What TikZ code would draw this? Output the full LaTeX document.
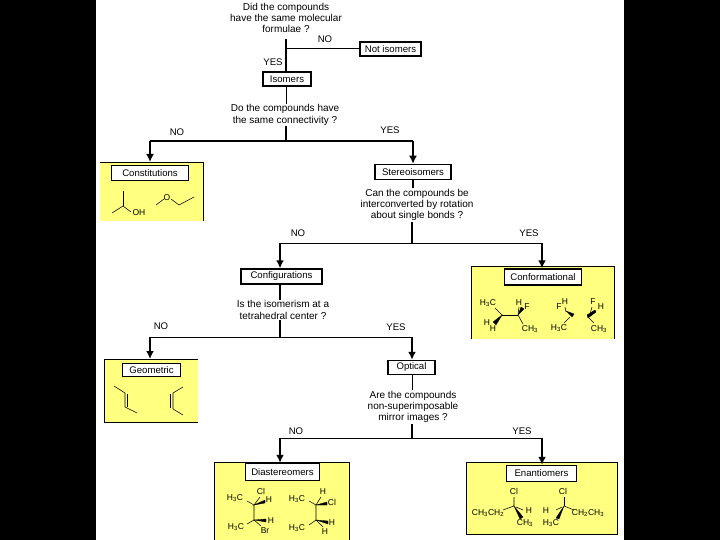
\documentclass[tikz,border=0pt]{standalone}
\usepackage{fontspec}
\setmainfont{Liberation Sans}
\usetikzlibrary{arrows.meta}
\definecolor{panelyellow}{RGB}{255,255,128}
\newcommand{\tbr}[1]{\textsubscript{#1}}
\tikzset{
  x=1pt,y=-1pt,
  qtext/.style={align=center,font=\fontsize{10}{11.2}\selectfont,inner sep=1pt},
  lbl/.style={font=\fontsize{9.6}{11}\selectfont,inner sep=0pt},
  atom/.style={font=\fontsize{8.5}{9}\selectfont,inner sep=0pt},
  boxnode/.style={draw=black,line width=1.5pt,fill=white,font=\fontsize{9.6}{11}\selectfont,inner sep=0pt,minimum width=#1},
  panel/.style={fill=panelyellow,inner sep=0pt,anchor=north west},
  wire/.style={line width=1pt},
  heavy/.style={line width=2pt},
  arrowed/.style={line width=2pt,-{Latex[length=8pt,width=8pt]},shorten >=0pt},
  edge/.style={line width=0.9pt},
  bond/.style={line width=0.55pt},
  wedge/.style={fill=black,draw=black,line width=0.3pt}
}
\begin{document}
\begin{tikzpicture}
\useasboundingbox (0,0) rectangle (720,540);
\fill[black] (0,0) rectangle (720,540);
\fill[white] (96,0) rectangle (624,540);

% panels
\node[panel,minimum width=103pt,minimum height=59pt] (pcons) at (100,162) {};
\draw[edge] (pcons.north west) -- (pcons.north east) -- (pcons.south east);
\node[panel,minimum width=143pt,minimum height=73pt] (pconf) at (471,266) {};
\draw[edge] (pconf.south west) -- (pconf.north west) -- (pconf.north east) -- (pconf.south east);
\node[panel,minimum width=94pt,minimum height=63pt] (pgeo) at (104,359) {};
\draw[edge] (pgeo.north east) -- (pgeo.north west) -- (pgeo.south west) -- (pgeo.south east);
\node[panel,minimum width=135pt,minimum height=78pt] (pdia) at (214,462) {};
\draw[edge] (pdia.south west) -- (pdia.north west) -- (pdia.north east) -- (pdia.south east);
\node[panel,minimum width=151pt,minimum height=72pt,draw=black,line width=0.9pt] (pena) at (466,462) {};

% questions
\node[qtext] (q1) at (286,18) {Did the compounds\\have the same molecular\\formulae ?};
\node[qtext] (q2) at (285,115) {Do the compounds have\\the same connectivity ?};
\node[qtext] (q3) at (417,205) {Can the compounds be\\interconverted by rotation\\about single bonds ?};
\node[qtext] (q4) at (283,310) {Is the isomerism at a\\tetrahedral center ?};
\node[qtext] (q5) at (413,407) {Are the compounds\\non-superimposable\\mirror images ?};

% boxes
\node[boxnode=61pt,minimum height=14pt] (notiso) at (390.5,49) {Not isomers};
\node[boxnode=48pt,minimum height=14pt] (iso) at (287,79) {Isomers};
\node[boxnode=76pt,minimum height=15pt] (stereo) at (413,172) {Stereoisomers};
\node[boxnode=81pt,minimum height=15pt] (config) at (281.5,276.5) {Configurations};
\node[boxnode=47pt,minimum height=14pt] (optical) at (411.5,367.5) {Optical};
\node[boxnode=77pt,minimum height=15pt] (cons) at (150,173) {Constitutions};
\node[boxnode=77pt,minimum height=16pt] (conf) at (543,277) {Conformational};
\node[boxnode=58pt,minimum height=13pt] (geo) at (151.5,370) {Geometric};
\node[boxnode=74pt,minimum height=17pt] (dia) at (282.5,472) {Diastereomers};
\node[boxnode=70pt,minimum height=16pt] (ena) at (541.5,473.5) {Enantiomers};

% junctions
\coordinate (j1) at (286,49);
\coordinate (j2) at (286,141);
\coordinate (j2l) at (150,141);
\coordinate (j2r) at (413,141);
\coordinate (j3) at (412,243);
\coordinate (j3l) at (280,243);
\coordinate (j3r) at (542,243);
\coordinate (j4) at (280,337);
\coordinate (j4l) at (150,337);
\coordinate (j4r) at (412,337);
\coordinate (j5) at (412,438);
\coordinate (j5l) at (280,438);
\coordinate (j5r) at (542,438);

% connectors
\draw[heavy] (286,39) -- (286,71);
\draw[wire] (j1) -- (notiso.west);
\draw[wire] (iso.south -| j1) -- (q2.north -| j1);
\draw[heavy] (q2.south -| j2) -- (j2);
\draw[heavy] (j2l) -- (j2r);
\draw[arrowed] (j2l) -- (pcons.north -| j2l);
\draw[arrowed] (j2r) -- (stereo.north);
\draw[heavy] (stereo.south) -- (q3.north -| stereo);
\draw[heavy] (q3.south -| j3) -- (j3);
\draw[wire] (j3l) -- (j3r);
\draw[arrowed] (j3l) -- (config.north -| j3l);
\draw[arrowed] (j3r) -- (conf.north -| j3r);
\draw[heavy] (config.south -| j4) -- (q4.north -| j4);
\draw[heavy] (q4.south -| j4) -- (j4);
\draw[wire] (j4l) -- (j4r);
\draw[arrowed] (j4l) -- (pgeo.north -| j4l);
\draw[arrowed] (j4r) -- (optical.north -| j4r);
\draw[wire] (optical.south -| j5) -- (q5.north -| j5);
\draw[heavy] (q5.south -| j5) -- (j5);
\draw[wire] (j5l) -- (j5r);
\draw[arrowed] (j5l) -- (dia.north -| j5l);
\draw[arrowed] (j5r) -- (ena.north -| j5r);

% branch labels
\node[lbl] (l1) at (325,39) {NO};
\node[lbl] (l2) at (273,62) {YES};
\node[lbl] (l3) at (177,132) {NO};
\node[lbl] (l4) at (390,130) {YES};
\node[lbl] (l5) at (298,233) {NO};
\node[lbl] (l6) at (529,233) {YES};
\node[lbl] (l7) at (161,326) {NO};
\node[lbl] (l8) at (396,327) {YES};
\node[lbl] (l9) at (296,431) {NO};
\node[lbl] (l10) at (522,431) {YES};

% Constitutional structures
\draw[bond] (112,213) -- (123,206) -- (131,212);
\draw[bond] (123,206) -- (123,191);
\node[atom] (a1) at (139,213) {OH};
\draw[bond] (156,205) -- (164,199);
\node[atom] (a2) at (167,198) {O};
\draw[bond] (171,199) -- (179,205) -- (194,197);

% Geometric structures
\draw[bond] (114,386) -- (125,393) -- (125,407) -- (137,413);
\draw[bond] (127.5,394) -- (127.5,407);
\draw[bond] (183,387) -- (173,393) -- (173,409) -- (183,415);
\draw[bond] (170.5,394) -- (170.5,408);

% Conformational structures
\node[atom] (c1) at (488,303) {H\tbr{3}C};
\node[atom] (c2) at (519,303) {H};
\node[atom] (c3) at (527,307) {F};
\node[atom] (c4) at (487,323) {H};
\node[atom] (c5) at (493,329) {H};
\node[atom] (c6) at (530,329) {CH\tbr{3}};
\draw[bond] (495,308) -- (502,315);
\draw[wedge] (502,315) -- (493,322) -- (496,325) -- cycle;
\draw[bond] (502,315) -- (518,315);
\draw[wedge] (518,315) -- (524,309) -- (521,307) -- cycle;
\draw[bond] (518,315) -- (519,307);
\draw[bond] (518,315) -- (523,324);
\node[atom] (c7) at (565,302) {H};
\node[atom] (c8) at (559,307) {F};
\node[atom] (c9) at (559,328) {H\tbr{3}C};
\draw[bond] (565,307) -- (566,312);
\draw[wedge] (566,311) -- (572,317) -- (574,314) -- cycle;
\draw[bond] (570,317) -- (564,323);
\node[atom] (c10) at (593,302) {F};
\node[atom] (c11) at (601,307) {H};
\node[atom] (c12) at (599,329) {CH\tbr{3}};
\draw[bond] (592,307) -- (590,314);
\draw[wedge] (587,315) -- (595,310) -- (596,312) -- (588,318) -- cycle;
\draw[bond] (588,317) -- (594,323);

% Diastereomer structures
\node[atom] (d1) at (235,498) {H\tbr{3}C};
\node[atom] (d2) at (261,491) {Cl};
\node[atom] (d3) at (269,500) {H};
\node[atom] (d4) at (236,527) {H\tbr{3}C};
\node[atom] (d5) at (271,521) {H};
\node[atom] (d6) at (265,531) {Br};
\draw[bond] (247,501) -- (254,505) -- (254,520) -- (247,524);
\draw[bond] (254,505) -- (260,497);
\draw[wedge] (254,505) -- (265,500) -- (265,503) -- cycle;
\draw[wedge] (254,520) -- (266,519) -- (266,522) -- cycle;
\draw[bond] (254,520) -- (261,526);
\node[atom] (d7) at (297,499) {H\tbr{3}C};
\node[atom] (d8) at (323,492) {H};
\node[atom] (d9) at (332,502) {Cl};
\node[atom] (d10) at (297,528) {H\tbr{3}C};
\node[atom] (d11) at (332,523) {H};
\node[atom] (d12) at (325,532) {H};
\draw[bond] (309,501) -- (316,505) -- (316,520) -- (309,525);
\draw[bond] (316,505) -- (321,497);
\draw[wedge] (316,505) -- (327,502) -- (327,505) -- cycle;
\draw[wedge] (316,520) -- (328,521) -- (328,524) -- cycle;
\draw[bond] (316,520) -- (323,527);

% Enantiomer structures
\node[atom] (e1) at (514,491) {Cl};
\node[atom] (e3) at (488,513) {CH\tbr{3}CH\tbr{2}};
\node[atom] (e4) at (529,511) {H};
\node[atom] (e5) at (525,523) {CH\tbr{3}};
\node[atom] (e6) at (563,491) {Cl};
\node[atom] (e7) at (546,511) {H};
\node[atom] (e8) at (551,523) {H\tbr{3}C};
\node[atom] (e9) at (588,513) {CH\tbr{2}CH\tbr{3}};
\draw[bond] (503,510) -- (514,506) -- (514,497);
\draw[wedge] (514,506) -- (520,519) -- (523,517) -- cycle;
\draw[bond] (516,507) -- (523,510);
\draw[bond] (564,506) -- (564,497);
\draw[bond] (564,506) -- (574,510);
\draw[wedge] (564,506) -- (556,518) -- (559,519) -- cycle;
\draw[bond] (562,507) -- (556,510);
\end{tikzpicture}
\end{document}
